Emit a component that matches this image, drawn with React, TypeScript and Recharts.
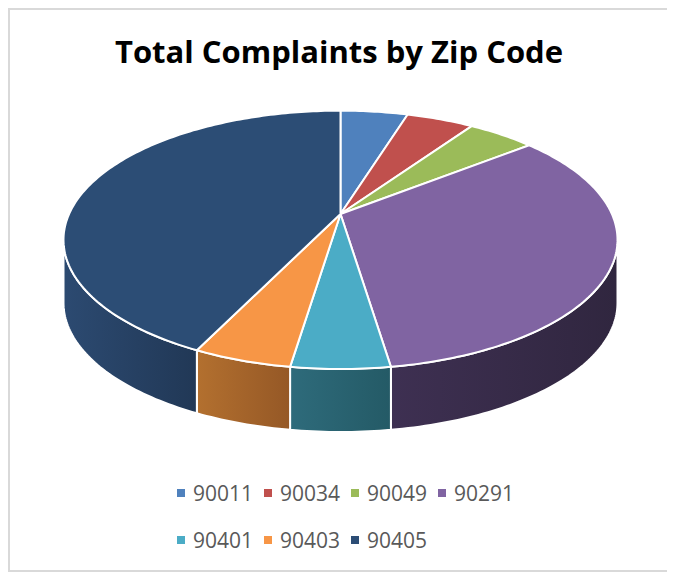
import React from 'react';
import { PieChart, Pie, Legend } from 'recharts';

const ZIP_CODES = ['90011', '90034', '90049', '90291', '90401', '90403', '90405'];
const COMPLAINTS = [1, 1, 1, 7, 1, 1, 9];
const TOP_COLORS = ['#4f81bd', '#c0504d', '#9bbb59', '#8064a2', '#4bacc6', '#f79646', '#2c4d75'];
const WALL_LIGHT = ['#3d6494', '#963e3b', '#789245', '#3e3052', '#2e6b7b', '#b3702f', '#2c4a71'];
const WALL_DARK = ['#2f4d73', '#76302e', '#5e7236', '#30263f', '#245a66', '#955826', '#213856'];

const data = ZIP_CODES.map((name, i) => ({ name, value: COMPLAINTS[i], fill: TOP_COLORS[i] }));

const TILT = 124 / 271.4; // vertical squash of the disc
const K = 0.2; // perspective strength
const DEPTH = 63; // wall thickness
const VIS_LO = -180 + (Math.asin(K) * 180) / Math.PI;
const VIS_HI = -(Math.asin(K) * 180) / Math.PI;

function project(cx: number, cy: number, r: number, a: number): [number, number] {
  const t = (a * Math.PI) / 180;
  const X = Math.cos(t);
  const Z = -Math.sin(t);
  const w = 1 - K * Z;
  return [cx + (r * X) / w, cy + (r * TILT * Z) / w];
}

function arcPoints(cx: number, cy: number, r: number, from: number, to: number, dy = 0): string[] {
  const n = Math.max(2, Math.ceil(Math.abs(to - from)));
  const pts: string[] = [];
  for (let i = 0; i <= n; i++) {
    const a = from + ((to - from) * i) / n;
    const [x, y] = project(cx, cy, r, a);
    pts.push(`${x.toFixed(2)},${(y + dy).toFixed(2)}`);
  }
  return pts;
}

const Slice3D = (props: any) => {
  const { cx, cy, outerRadius, startAngle, endAngle, index } = props;
  const i = index ?? 0;
  const hi = Math.min(Math.max(startAngle, endAngle), VIS_HI);
  const lo = Math.max(Math.min(startAngle, endAngle), VIS_LO);
  let wall: React.ReactNode = null;
  if (hi > lo) {
    const top = arcPoints(cx, cy, outerRadius, hi, lo);
    const bottom = arcPoints(cx, cy, outerRadius, lo, hi, DEPTH);
    const d = `M${top.join('L')}L${bottom.join('L')}Z`;
    wall = (
      <g>
        <defs>
          <linearGradient id={`wall-${i}`} x1="0" y1="0" x2="1" y2="0">
            <stop offset="0%" stopColor={WALL_LIGHT[i]} />
            <stop offset="100%" stopColor={WALL_DARK[i]} />
          </linearGradient>
        </defs>
        <path d={d} fill={`url(#wall-${i})`} stroke="#ffffff" strokeWidth={2} strokeLinejoin="round" />
      </g>
    );
  }
  const face = arcPoints(cx, cy, outerRadius, startAngle, endAngle);
  const faceD = `M${cx},${cy}L${face.join('L')}Z`;
  return (
    <g>
      {wall}
      <path d={faceD} fill={TOP_COLORS[i]} stroke="#ffffff" strokeWidth={2} strokeLinejoin="round" />
    </g>
  );
};

const renderLegend = (props: any) => {
  const payload = props.payload || [];
  return (
    <div style={{ display: 'flex', flexWrap: 'wrap', width: 360 }}>
      {payload.map((entry: any, idx: number) => (
        <div
          key={idx}
          style={{ width: 87, height: 47, display: 'flex', alignItems: 'center' }}
        >
          <span style={{ width: 8, height: 8, background: entry.color, marginRight: 8, flex: 'none' }} />
          <span style={{ fontFamily: '"Open Sans", sans-serif', fontSize: 21, color: '#595959', lineHeight: '47px' }}>
            {entry.value}
          </span>
        </div>
      ))}
    </div>
  );
};

export default function App() {
  return (
    <div
      style={{
        position: 'relative',
        width: 662,
        height: 564,
        boxSizing: 'border-box',
        border: '2px solid #d9d9d9',
        background: '#ffffff',
      }}
    >
      <div
        style={{
          position: 'absolute',
          left: 0,
          top: 21,
          width: 658,
          height: 40,
          lineHeight: '40px',
          textAlign: 'center',
          fontFamily: '"Open Sans", sans-serif',
          fontWeight: 700,
          fontSize: 31,
          color: '#000000',
          zIndex: 1,
        }}
      >
        Total Complaints by Zip Code
      </div>
      <PieChart width={658} height={560} margin={{ top: 0, right: 0, bottom: 0, left: 0 }}>
        <Pie
          data={data}
          dataKey="value"
          nameKey="name"
          cx={330.5}
          cy={204}
          outerRadius={271.4}
          startAngle={90}
          endAngle={-270}
          stroke="none"
          isAnimationActive={false}
          shape={Slice3D}
          activeShape={Slice3D}
          inactiveShape={Slice3D}
        />
        <Legend
          content={renderLegend}
          wrapperStyle={{ position: 'absolute', left: 167, top: 459.5, width: 360, height: 94 }}
        />
      </PieChart>
    </div>
  );
}
